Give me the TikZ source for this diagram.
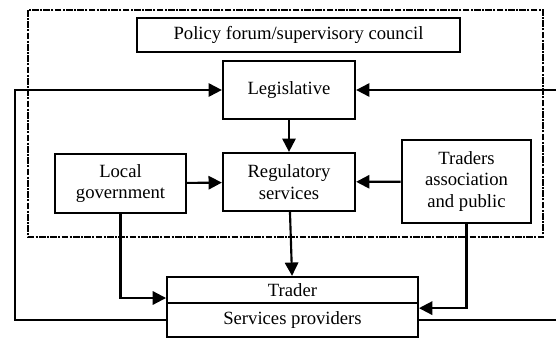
\documentclass[tikz,border=0pt]{standalone}
\usepackage{fontspec}
\setmainfont{Liberation Serif}
\usetikzlibrary{arrows.meta}
\begin{document}
\begin{tikzpicture}[x=0.75pt,y=-0.75pt,font=\fontsize{14}{16}\selectfont]
\tikzset{box/.style={draw,line width=1.7pt,align=center,inner sep=2pt},
 arr/.style={line width=1.6pt,-{Triangle[length=10pt,width=10pt]}},
 lnk/.style={line width=1.6pt},
 frame/.style={line width=1.6pt,dash pattern=on 5pt off 1pt on 1.5pt off 1pt}}
\useasboundingbox (0,0) rectangle (556,339);
% council frame
\draw[frame] (28,10) rectangle (543,237);
% boxes
\node[box,minimum width=242pt,minimum height=25.5pt] (policy) at (298.5,35) {Policy forum/supervisory council};
\node[box,minimum width=99pt,minimum height=43.5pt] (legis) at (289,90) {Legislative};
\node[box,minimum width=99pt,minimum height=43.5pt] (reg) at (289,182) {Regulatory\\services};
\node[box,minimum width=98pt,minimum height=44pt] (local) at (120.5,183.5) {Local\\government};
\node[box,minimum width=97pt,minimum height=62pt] (traders) at (466.5,181.5) {Traders\\association\\and public};
\node[box,minimum width=188pt,minimum height=19.5pt] (trader) at (292.5,290) {Trader};
\node[box,minimum width=188pt,minimum height=25.5pt] (serv) at (292.5,320) {Services providers};
% outside ends of the loops
\coordinate (lft) at (15,200);
\coordinate (rgt) at (556,200);
% connectors
\draw[arr] (legis) -- (reg);
\draw[arr] (local) -- (reg);
\draw[arr] (traders) -- (reg);
\draw[arr] (reg) -- (trader);
\draw[arr] (local.south) |- ([yshift=-6pt]trader.west);
\draw[arr] (traders.south) |- ([yshift=-3pt]trader.south east);
\draw[arr] (serv.west) -| (lft) |- (legis.west);
\draw[arr] (rgt |- legis.east) -- (legis.east);
\draw[lnk] (serv.east) -- (serv.east -| rgt);
\end{tikzpicture}
\end{document}
